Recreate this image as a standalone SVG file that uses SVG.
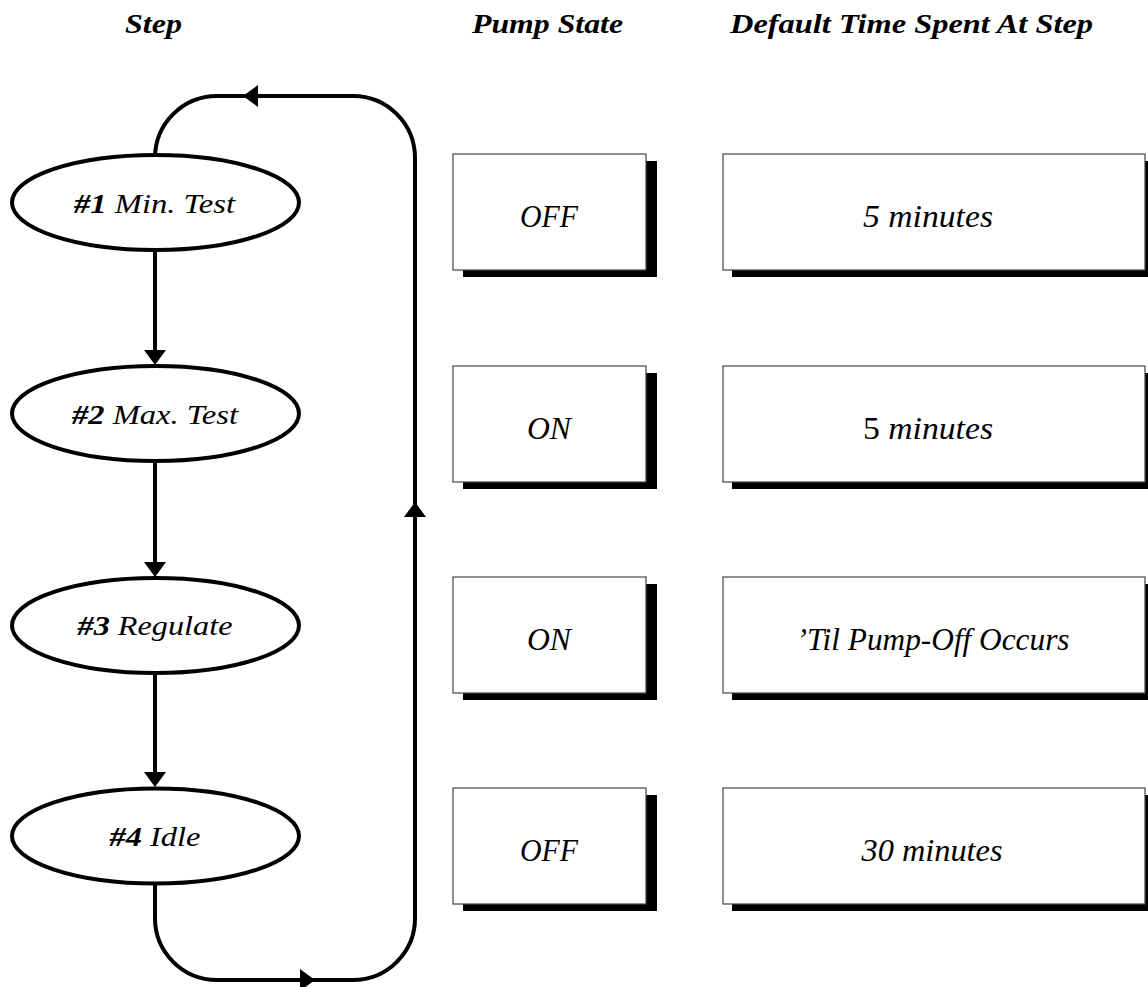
<svg xmlns="http://www.w3.org/2000/svg" width="1148" height="987" viewBox="0 0 1148 987">
<style>
.hdr{font-family:"Liberation Serif","Times New Roman",serif;font-style:italic;font-weight:bold;font-size:28px;text-anchor:middle;fill:#000}
.lbl{font-family:"Liberation Serif","Times New Roman",serif;font-style:italic;font-size:28px;text-anchor:middle;fill:#000}
.bx{font-family:"Liberation Serif","Times New Roman",serif;font-style:italic;font-size:32px;text-anchor:middle;fill:#000}
.b{font-weight:bold}
.up{font-style:normal}
.ell{fill:#fff;stroke:#000;stroke-width:4}
.box{fill:#fff;stroke:#444;stroke-width:1.2}
.shadow{fill:#000}
.line{fill:none;stroke:#000;stroke-width:4}
.head{fill:#000}
</style>
<rect width="1148" height="987" fill="#fff"/>
<g id="headers">
<text class="hdr" x="153.5" y="33" textLength="57" lengthAdjust="spacingAndGlyphs">Step</text>
<text class="hdr" x="547.5" y="33" textLength="151" lengthAdjust="spacingAndGlyphs">Pump State</text>
<text class="hdr" x="911.5" y="33" textLength="363" lengthAdjust="spacingAndGlyphs">Default Time Spent At Step</text>
</g>
<g id="connectors">
<path class="line" d="M155 153 V158 A62 62 0 0 1 217 96 H353 A62 62 0 0 1 415 158 V918 A62 62 0 0 1 353 980 H217 A62 62 0 0 1 155 918 V885"/>
<polygon class="head" points="243,96 258,85 258,107"/>
<polygon class="head" points="415,502 404,517 426,517"/>
<polygon class="head" points="315,980 300,969 300,991"/>
<line class="line" x1="155" y1="252" x2="155" y2="352"/>
<polygon class="head" points="155,365 144,350 166,350"/>
<line class="line" x1="155" y1="463" x2="155" y2="563"/>
<polygon class="head" points="155,577 144,562 166,562"/>
<line class="line" x1="155" y1="674" x2="155" y2="773"/>
<polygon class="head" points="155,787 144,772 166,772"/>
</g>
<g id="step1"><ellipse class="ell" cx="155.5" cy="202.5" rx="143.5" ry="47.5"/><text class="lbl" x="154.5" y="213" textLength="161" lengthAdjust="spacingAndGlyphs"><tspan class="b">#1</tspan> Min. Test</text></g>
<g id="step2"><ellipse class="ell" cx="155.5" cy="413.5" rx="143.5" ry="47.5"/><text class="lbl" x="155" y="424" textLength="166" lengthAdjust="spacingAndGlyphs"><tspan class="b">#2</tspan> Max. Test</text></g>
<g id="step3"><ellipse class="ell" cx="155.5" cy="625.5" rx="143.5" ry="47.5"/><text class="lbl" x="155" y="635" textLength="155" lengthAdjust="spacingAndGlyphs"><tspan class="b">#3</tspan> Regulate</text></g>
<g id="step4"><ellipse class="ell" cx="155.5" cy="836" rx="143.5" ry="47.5"/><text class="lbl" x="155" y="846" textLength="91" lengthAdjust="spacingAndGlyphs"><tspan class="b">#4</tspan> Idle</text></g>
<g id="pump1"><rect class="shadow" x="463" y="161" width="194" height="116"/><rect class="box" x="453" y="154" width="193" height="116"/><text class="bx" x="549" y="227" textLength="58" lengthAdjust="spacingAndGlyphs">OFF</text></g>
<g id="pump2"><rect class="shadow" x="463" y="373" width="194" height="116"/><rect class="box" x="453" y="366" width="193" height="116"/><text class="bx" x="549" y="439" textLength="44" lengthAdjust="spacingAndGlyphs">ON</text></g>
<g id="pump3"><rect class="shadow" x="463" y="584" width="194" height="116"/><rect class="box" x="453" y="577" width="193" height="116"/><text class="bx" x="549" y="650" textLength="44" lengthAdjust="spacingAndGlyphs">ON</text></g>
<g id="pump4"><rect class="shadow" x="463" y="795" width="194" height="116"/><rect class="box" x="453" y="788" width="193" height="116"/><text class="bx" x="549" y="861" textLength="58" lengthAdjust="spacingAndGlyphs">OFF</text></g>
<g id="time1"><rect class="shadow" x="732" y="161" width="430" height="116"/><rect class="box" x="723" y="154" width="422" height="116"/><text class="bx" x="928" y="227" textLength="130" lengthAdjust="spacingAndGlyphs">5 minutes</text></g>
<g id="time2"><rect class="shadow" x="732" y="373" width="430" height="116"/><rect class="box" x="723" y="366" width="422" height="116"/><text class="bx" x="928" y="439" textLength="130" lengthAdjust="spacingAndGlyphs"><tspan class="up">5</tspan> minutes</text></g>
<g id="time3"><rect class="shadow" x="732" y="584" width="430" height="116"/><rect class="box" x="723" y="577" width="422" height="116"/><text class="bx" x="933" y="650" textLength="273" lengthAdjust="spacingAndGlyphs">’Til Pump-Off Occurs</text></g>
<g id="time4"><rect class="shadow" x="732" y="795" width="430" height="116"/><rect class="box" x="723" y="788" width="422" height="116"/><text class="bx" x="932" y="861" textLength="141" lengthAdjust="spacingAndGlyphs">30 minutes</text></g>
</svg>
